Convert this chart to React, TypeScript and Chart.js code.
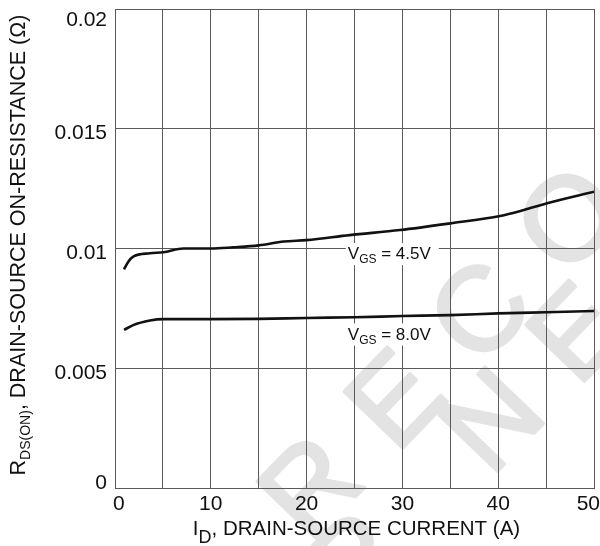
import React, { useEffect, useRef } from "react";
import { Chart, registerables } from "chart.js";

Chart.register(...registerables);

const FONT = '"Liberation Sans", Arial, Helvetica, sans-serif';

// ---- data ----
const CURRENT_45 = [0.94, 1.39, 1.9, 3.65, 5.04, 7.13, 10, 12.35, 15, 17.6, 20, 24.5, 29.75, 35, 40.2, 42.6, 45.1, 50];
const RDS_45 = [0.00913, 0.00945, 0.00966, 0.0098, 0.00984, 0.01, 0.01, 0.01005, 0.01013, 0.01029, 0.01035, 0.01056, 0.01077, 0.01105, 0.01136, 0.0116, 0.01189, 0.01237];

const CURRENT_80 = [0.94, 1.9, 3.65, 5.04, 10, 15, 20, 25, 30, 35, 40, 45, 50];
const RDS_80 = [0.0066, 0.0068, 0.00699, 0.00705, 0.00705, 0.00706, 0.0071, 0.00713, 0.00718, 0.00722, 0.00729, 0.00734, 0.00739];

const X_TICK_VALUES = [0, 10, 20, 30, 40, 50];
const X_TICK_LABELS = ["0", "10", "20", "30", "40", "50"];
const Y_TICK_VALUES = [0, 0.005, 0.01, 0.015, 0.02];
const Y_TICK_LABELS = ["0", "0.005", "0.01", "0.015", "0.02"];

const CURVE_LABEL_MAIN = ["V", "V"];
const CURVE_LABEL_SUB = ["GS", "GS"];
const CURVE_LABEL_REST = [" = 4.5V", " = 8.0V"];
const CURVE_LABEL_X = [24.3, 24.3];
const CURVE_LABEL_Y = [0.00981, 0.00645];

const X_TITLE_MAIN = "I";
const X_TITLE_SUB = "D";
const X_TITLE_REST = ", DRAIN-SOURCE CURRENT (A)";
const Y_TITLE_MAIN = "R";
const Y_TITLE_SUB = "DS(ON)";
const Y_TITLE_REST = ", DRAIN-SOURCE ON-RESISTANCE (Ω)";

const WATERMARK_LINES = ["NOT RECOMMENDED", "FOR NEW DESIGN"];
const WATERMARK_ANCHOR_INDEX = [5, 4];
const WATERMARK_ANCHOR_PX = [[393, 397], [490, 418]];

const overlayPlugin = {
  id: "overlay",
  beforeDraw(chart: any) {
    const ctx = chart.ctx as CanvasRenderingContext2D;
    ctx.save();
    ctx.fillStyle = "#ffffff";
    ctx.fillRect(0, 0, chart.width, chart.height);
    const size = 118;
    const spacing = 40;
    ctx.font = `${size}px ${FONT}`;
    ctx.fillStyle = "#e3e3e3";
    ctx.strokeStyle = "#e3e3e3";
    ctx.lineWidth = 3.5;
    ctx.lineJoin = "round";
    ctx.textBaseline = "alphabetic";
    ctx.textAlign = "left";
    const theta = (-46 * Math.PI) / 180;
    const cos = Math.cos(theta);
    const sin = Math.sin(theta);
    const capH = 0.716 * size;
    WATERMARK_LINES.forEach((text, li) => {
      const chars = text.split("");
      const xs: number[] = [];
      let acc = 0;
      for (const ch of chars) {
        xs.push(acc);
        acc += ctx.measureText(ch).width + spacing;
      }
      const k = WATERMARK_ANCHOR_INDEX[li];
      const u = xs[k] + ctx.measureText(chars[k]).width / 2;
      const v = -capH / 2;
      const [ax, ay] = WATERMARK_ANCHOR_PX[li];
      const ox = ax - (u * cos - v * sin);
      const oy = ay - (u * sin + v * cos);
      ctx.save();
      ctx.translate(ox, oy);
      ctx.rotate(theta);
      chars.forEach((ch, i) => {
        ctx.fillText(ch, xs[i], 0);
        ctx.strokeText(ch, xs[i], 0);
      });
      ctx.restore();
    });
    ctx.restore();
  },
  beforeDatasetsDraw(chart: any) {
    const ctx = chart.ctx as CanvasRenderingContext2D;
    const xs = chart.scales.x;
    const ys = chart.scales.y;
    ctx.save();
    ctx.textBaseline = "alphabetic";
    ctx.textAlign = "left";
    CURVE_LABEL_MAIN.forEach((main, i) => {
      const px = xs.getPixelForValue(CURVE_LABEL_X[i]);
      const py = ys.getPixelForValue(CURVE_LABEL_Y[i]);
      ctx.font = `17px ${FONT}`;
      const wM = ctx.measureText(main).width;
      const wR = ctx.measureText(CURVE_LABEL_REST[i]).width;
      ctx.font = `12px ${FONT}`;
      const wS = ctx.measureText(CURVE_LABEL_SUB[i]).width;
      const total = wM + wS + wR;
      ctx.fillStyle = "#ffffff";
      ctx.fillRect(px - 2, py - 10, total + 10, 22);
      const base = py + 6;
      ctx.fillStyle = "#111111";
      ctx.font = `17px ${FONT}`;
      ctx.fillText(main, px, base);
      ctx.font = `12px ${FONT}`;
      ctx.fillText(CURVE_LABEL_SUB[i], px + wM, base + 4);
      ctx.font = `17px ${FONT}`;
      ctx.fillText(CURVE_LABEL_REST[i], px + wM + wS, base);
    });
    ctx.restore();
  },
  afterDraw(chart: any) {
    const ctx = chart.ctx as CanvasRenderingContext2D;
    const area = chart.chartArea;
    const xs = chart.scales.x;
    const ys = chart.scales.y;
    ctx.save();
    ctx.fillStyle = "#111111";
    ctx.textBaseline = "alphabetic";

    // y tick labels
    ctx.font = `21px ${FONT}`;
    ctx.textAlign = "right";
    Y_TICK_VALUES.forEach((v, i) => {
      const p = ys.getPixelForValue(v);
      const base = Math.min(Math.max(p + 10.5, area.top + 17), area.bottom + 1);
      ctx.fillText(Y_TICK_LABELS[i], area.left - 8, base);
    });

    // x tick labels
    ctx.textAlign = "center";
    X_TICK_VALUES.forEach((v, i) => {
      const p = xs.getPixelForValue(v);
      const w = ctx.measureText(X_TICK_LABELS[i]).width;
      const cx = Math.min(Math.max(p, area.left + w / 2 - 2), chart.width - w / 2);
      ctx.fillText(X_TICK_LABELS[i], cx, area.bottom + 22);
    });

    // x title
    ctx.textAlign = "left";
    ctx.font = `20.5px ${FONT}`;
    const xm = ctx.measureText(X_TITLE_MAIN).width;
    const xr = ctx.measureText(X_TITLE_REST).width;
    ctx.font = `18px ${FONT}`;
    const xsb = ctx.measureText(X_TITLE_SUB).width;
    const xTotal = xm + xsb + xr;
    const xStart = (area.left + area.right) / 2 + 2 - xTotal / 2;
    const xBase = area.bottom + 47;
    ctx.font = `20.5px ${FONT}`;
    ctx.fillText(X_TITLE_MAIN, xStart, xBase);
    ctx.font = `18px ${FONT}`;
    ctx.fillText(X_TITLE_SUB, xStart + xm, xBase + 8);
    ctx.font = `20.5px ${FONT}`;
    ctx.fillText(X_TITLE_REST, xStart + xm + xsb, xBase);

    // y title
    ctx.font = `21.5px ${FONT}`;
    const ym = ctx.measureText(Y_TITLE_MAIN).width;
    const yr = ctx.measureText(Y_TITLE_REST).width;
    ctx.font = `14px ${FONT}`;
    const ysb = ctx.measureText(Y_TITLE_SUB).width;
    const yTotal = ym + ysb + yr;
    const cy = (area.top + area.bottom) / 2 - 3.5;
    ctx.translate(25, cy);
    ctx.rotate(-Math.PI / 2);
    const s = -yTotal / 2;
    ctx.font = `21.5px ${FONT}`;
    ctx.fillText(Y_TITLE_MAIN, s, 0);
    ctx.font = `14px ${FONT}`;
    ctx.fillText(Y_TITLE_SUB, s + ym, 5);
    ctx.font = `21.5px ${FONT}`;
    ctx.fillText(Y_TITLE_REST, s + ym + ysb, 0);
    ctx.restore();
  },
};

export default function App() {
  const canvasRef = useRef<HTMLCanvasElement | null>(null);

  useEffect(() => {
    const canvas = canvasRef.current;
    if (!canvas) return;
    const chart = new Chart(canvas, {
      type: "line",
      data: {
        datasets: [
          {
            label: "VGS = 4.5V",
            data: CURRENT_45.map((x, i) => ({ x, y: RDS_45[i] })),
            borderColor: "#111111",
            borderWidth: 2.6,
            pointRadius: 0,
            cubicInterpolationMode: "monotone",
            fill: false,
          },
          {
            label: "VGS = 8.0V",
            data: CURRENT_80.map((x, i) => ({ x, y: RDS_80[i] })),
            borderColor: "#111111",
            borderWidth: 2.6,
            pointRadius: 0,
            cubicInterpolationMode: "monotone",
            fill: false,
          },
        ],
      },
      options: {
        responsive: false,
        animation: false,
        events: [],
        layout: { padding: { top: 9, right: 6, left: 0, bottom: 0 } },
        plugins: {
          legend: { display: false },
          tooltip: { enabled: false },
          title: { display: false },
        },
        scales: {
          x: {
            type: "linear",
            min: 0,
            max: 50,
            ticks: { stepSize: 5, display: false },
            grid: { color: "#5a5a5a", lineWidth: 1, drawTicks: false },
            border: { display: true, color: "#5a5a5a", width: 1 },
            afterFit: (scale: any) => {
              scale.height = 58;
            },
          },
          y: {
            type: "linear",
            min: 0,
            max: 0.02,
            ticks: { stepSize: 0.005, display: false },
            grid: { color: "#5a5a5a", lineWidth: 1, drawTicks: false },
            border: { display: true, color: "#5a5a5a", width: 1 },
            afterFit: (scale: any) => {
              scale.width = 115;
            },
          },
        },
      } as any,
      plugins: [overlayPlugin],
    });
    return () => chart.destroy();
  }, []);

  return (
    <div style={{ position: "absolute", left: 0, top: 0, width: 600, height: 546, background: "#fff" }}>
      <canvas ref={canvasRef} width={600} height={546} style={{ display: "block" }} />
    </div>
  );
}
